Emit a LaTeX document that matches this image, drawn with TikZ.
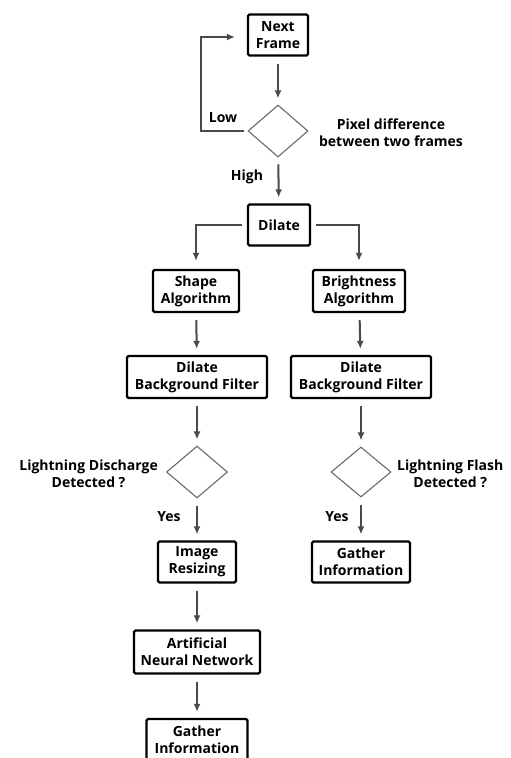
\documentclass[tikz,border=0pt]{standalone}
\usepackage{fontspec}
\setmainfont{Open Sans}
\usetikzlibrary{shapes.geometric,arrows.meta}
\definecolor{arrgray}{HTML}{4A4A4A}
\definecolor{dgray}{HTML}{6A6A6A}
\tikzset{
  box/.style={draw=black, line width=2.2pt, rounded corners=1.5pt, align=center, inner sep=0pt, font=\fontsize{14}{17}\selectfont\bfseries},
  dia/.style={draw=dgray, line width=1.1pt, shape=diamond, inner sep=0pt},
  lbl/.style={align=center, inner sep=0pt, font=\fontsize{14}{17}\selectfont\bfseries},
  arr/.style={draw=arrgray, line width=2pt, -{Latex[length=8pt,width=7pt]}, shorten <=7pt, shorten >=6pt},
  ln/.style={draw=arrgray, line width=2pt}
}
\begin{document}
\begin{tikzpicture}[x=1pt,y=-1pt]
\useasboundingbox (0,0) rectangle (511,758);
\fill[white] (0,0) rectangle (511,758);
% boxes
\node[box, minimum width=60, minimum height=41] (nf) at (278,35) {Next\\Frame};
\node[dia, minimum width=60, minimum height=52] (d0) at (278,131) {};
\node[box, minimum width=62, minimum height=41] (dil) at (279,225) {Dilate};
\node[box, minimum width=86, minimum height=42] (shape) at (196,291) {Shape\\Algorithm};
\node[box, minimum width=92, minimum height=42] (bright) at (359,291) {Brightness\\Algorithm};
\node[box, minimum width=140, minimum height=42] (dbf1) at (197,377) {Dilate\\Background Filter};
\node[box, minimum width=140, minimum height=42] (dbf2) at (361,377) {Dilate\\Background Filter};
\node[dia, minimum width=61, minimum height=52] (d1) at (197,472) {};
\node[dia, minimum width=60, minimum height=50] (d2) at (361,472) {};
\node[box, minimum width=78, minimum height=41] (ir) at (197,562) {Image\\Resizing};
\node[box, minimum width=98, minimum height=41] (gi2) at (361,562) {Gather\\Information};
\node[box, minimum width=126, minimum height=43] (ann) at (197,652) {Artificial\\Neural Network};
\node[box, minimum width=101, minimum height=42] (gi1) at (197,740) {Gather\\Information};
% labels
\node[lbl] (pd) at (391,133) {Pixel difference\\between two frames};
\node[lbl, anchor=east] (ld) at (158,474) {Lightning Discharge\\Detected ?};
\node[lbl, anchor=west] (lf) at (397,474) {Lightning Flash\\Detected ?};
\node[lbl] (low) at (223,118) {Low};
\node[lbl] (high) at (247,177) {High};
\node[lbl] (y1) at (169,517) {Yes};
\node[lbl] (y2) at (337,517) {Yes};
% connectors
\draw[arr] (nf) -- (d0);
\draw[arr] (d0) -- (dil);
\coordinate (lc1) at (201,131);
\coordinate (lc2) at (201,37);
\draw[arr, shorten <=3pt, shorten >=12pt] (d0.west) -- (lc1) -- (lc2) -- (nf.west |- lc2);
\draw[arr, shorten <=5pt, shorten >=8pt] (dil.west) -| (shape.north);
\draw[arr, shorten <=5pt, shorten >=8pt] (dil.east) -| (bright.north);
\draw[arr] (shape) -- (dbf1);
\draw[arr] (bright) -- (dbf2);
\draw[arr] (dbf1) -- (d1);
\draw[arr] (dbf2) -- (d2);
\draw[arr] (d1) -- (ir);
\draw[arr] (d2) -- (gi2);
\draw[arr] (ir) -- (ann);
\draw[arr] (ann) -- (gi1);
\end{tikzpicture}
\end{document}
